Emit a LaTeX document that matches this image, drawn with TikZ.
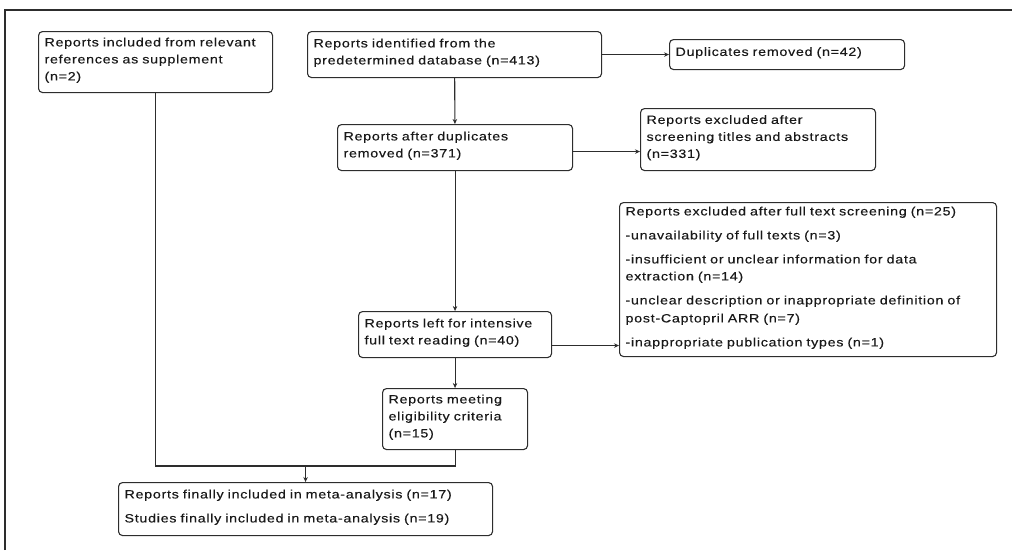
\documentclass[tikz,border=0pt]{standalone}
\usepackage{fontspec}
\usepackage{xcolor}
\usepackage{tikz}
\usetikzlibrary{arrows.meta, positioning}
\newfontfamily\rptfont[FakeStretch=1.19, LetterSpace=6, FakeBold=0.3]{Liberation Sans}
\definecolor{lineclr}{RGB}{45,45,45}
\definecolor{textclr}{RGB}{25,25,25}

\begin{document}
\begin{tikzpicture}[
    x=1pt, y=-1pt,
    box/.style={rectangle, draw=lineclr, line width=1.1pt, rounded corners=4pt, align=left,
        inner xsep=6pt, inner ysep=3pt, text width=#1, text=textclr, anchor=north west,
        font={\rptfont\fontsize{12}{15}\selectfont},
        execute at end node={\rule[-6pt]{0pt}{6pt}}},
    arr/.style={draw=lineclr, line width=1.1pt, -{Stealth[length=5pt, width=4.5pt]}},
    link/.style={draw=lineclr, line width=1.1pt}
]
\useasboundingbox (0,0) rectangle (1012,550);
% outer frame
\draw[lineclr, line width=1.5pt] (5,550) -- (5,10) -- (1012,10);

\node[box=222pt, minimum height=61pt] (supp) at (38,31) {Reports included from relevant\\[2pt] references as supplement\\[2pt] (n=2)};
\node[box=282pt, minimum height=46pt] (ident) at (307,31) {Reports identified from the\\[2pt] predetermined database (n=413)};
\node[box=223pt, minimum height=30pt] (dup) at (669,39) {Duplicates removed (n=42)};
\node[box=223pt, minimum height=46pt] (after) at (337,124) {Reports after duplicates\\[2pt] removed (n=371)};
\node[box=223pt, minimum height=62pt] (scrn) at (640,108) {Reports excluded after\\[2pt] screening titles and abstracts\\[2pt] (n=331)};
\node[box=365pt, minimum height=154pt] (full) at (619,202) {Reports excluded after full text screening (n=25)\\[9pt]
    -unavailability of full texts (n=3)\\[9pt]
    -insufficient or unclear information for data\\[2pt] extraction (n=14)\\[9pt]
    -unclear description or inappropriate definition of\\[3pt] post-Captopril ARR (n=7)\\[9pt]
    -inappropriate publication types (n=1)};
\node[box=181pt, minimum height=46pt] (left) at (358,311) {Reports left for intensive\\[2pt] full text reading (n=40)};
\node[box=133pt, minimum height=61pt] (meet) at (382,388) {Reports meeting\\[2pt] eligibility criteria\\[2pt] (n=15)};
\node[box=362pt, minimum height=53pt] (final) at (118,482) {Reports finally included in meta-analysis (n=17)\\[9pt]
    Studies finally included in meta-analysis (n=19)};

\coordinate (merge) at ([yshift=16pt]final.north);

\draw[arr] (ident) -- (dup);
\draw[arr] (ident) -- (after);
\draw[arr] ([yshift=-4pt]after.east) -- ([yshift=-4pt]after.east -| scrn.west);
\draw[arr] (after) -- (left);
\draw[arr] ([yshift=-11pt]left.east) -- ([yshift=-11pt]left.east -| full.west);
\draw[arr] (left) -- (meet);
\draw[link] (supp.south) |- (merge);
\draw[link] (meet.south) |- (merge);
\draw[arr] (merge) -- (final);
\end{tikzpicture}
\end{document}
